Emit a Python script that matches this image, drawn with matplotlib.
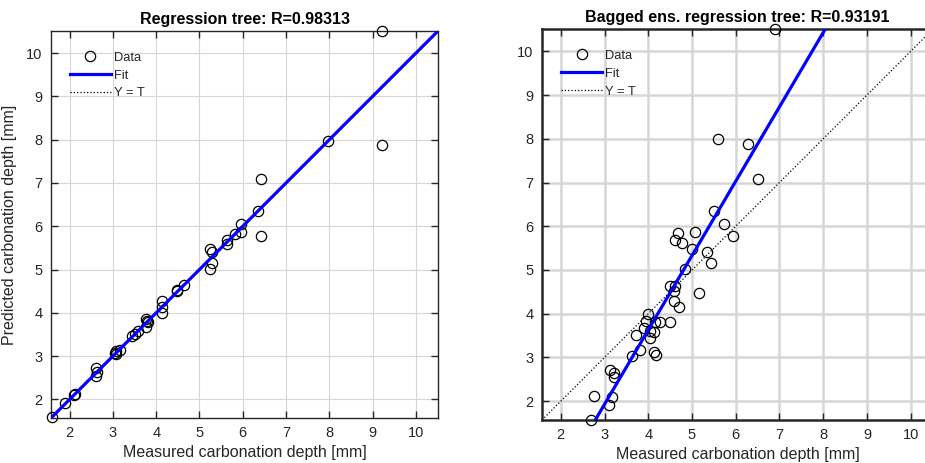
import numpy as np
import matplotlib
matplotlib.use("Agg")
import matplotlib.pyplot as plt
from matplotlib.lines import Line2D

plt.rcParams['font.family'] = ['Liberation Sans', 'DejaVu Sans']

# ---- data: regression tree ----
rt_target = [1.6, 1.9, 2.10, 2.12, 2.62, 2.63, 2.62, 3.06, 3.08, 3.16, 3.04,
             3.45, 3.50, 3.58, 3.76, 3.79, 3.81, 3.77, 4.13, 4.13, 4.13,
             4.47, 4.49, 4.64, 5.24, 5.28, 5.29, 5.24, 5.64, 5.64, 5.82,
             5.95, 5.96, 6.35, 6.43, 6.43, 7.98, 9.21, 9.21]
rt_output = [1.6, 1.91, 2.10, 2.12, 2.72, 2.64, 2.54, 3.04, 3.12, 3.15, 3.08,
             3.46, 3.50, 3.58, 3.86, 3.81, 3.78, 3.68, 4.28, 4.14, 4.00,
             4.50, 4.52, 4.65, 5.48, 5.40, 5.15, 5.02, 5.69, 5.60, 5.82,
             6.06, 5.87, 6.35, 7.08, 5.77, 7.98, 10.51, 7.88]
rt_fit = (1.0, 0.0)          # slope, intercept
rt_R = "0.98313"

# ---- data: bagged ensemble ----
bg_target = [2.68, 2.76, 3.10, 3.18, 3.12, 3.22, 3.22, 3.63, 3.82, 3.72,
             3.91, 3.95, 4.00, 4.03, 4.04, 4.12, 4.16, 4.26, 4.12, 4.17,
             4.49, 4.49, 4.61, 4.58, 4.58, 4.70, 4.83, 5.15, 4.67, 4.61,
             4.77, 5.06, 4.99, 5.34, 5.43, 5.50, 5.59, 5.73, 5.94, 6.28,
             6.51, 6.90]
bg_output = [1.58, 2.11, 1.91, 2.09, 2.72, 2.65, 2.55, 3.03, 3.16, 3.52,
             3.68, 3.84, 4.00, 3.44, 3.60, 3.58, 3.82, 3.80, 3.12, 3.06,
             3.80, 4.64, 4.64, 4.51, 4.28, 4.15, 5.02, 4.48, 5.84, 5.69,
             5.61, 5.87, 5.47, 5.40, 5.15, 6.35, 7.99, 6.05, 5.78, 7.89,
             7.08, 10.52]
bg_fit = (1.70, -3.17)
bg_R = "0.93191"

lims = (1.57, 10.51)
ticks = [2, 3, 4, 5, 6, 7, 8, 9, 10]

W, H = 925, 463
fig = plt.figure(figsize=(W / 100, H / 100), dpi=100)

txt = '#262626'


def panel(rect, t, o, fit, title, grid_lw, spine_lw, ylabel):
    ax = fig.add_axes(rect)
    ax.set_xlim(lims)
    ax.set_ylim(lims)
    xx = np.array(lims)
    ax.plot(xx, xx, ':', color='k', lw=0.9, zorder=2)
    ax.plot(t, o, 'o', mfc='none', mec='k', ms=7.4, mew=0.9, zorder=3,
            clip_on=False)
    ax.plot(xx, fit[0] * xx + fit[1], '-', color='#0000ff', lw=2.3, zorder=4,
            solid_capstyle='butt')
    ax.set_xticks(ticks)
    ax.set_yticks(ticks)
    ax.grid(True, color='#d6d6d6', lw=grid_lw, zorder=0)
    ax.set_axisbelow(True)
    ax.tick_params(direction='in', length=5, width=1.0, top=True, right=True,
                   labelsize=10.5, colors=txt, pad=6)
    for s in ax.spines.values():
        s.set_linewidth(spine_lw)
        s.set_color('#262626')
    ax.set_title(title, fontsize=11.5, fontweight='bold', color='k', pad=5)
    ax.set_xlabel('Measured carbonation depth [mm]', fontsize=11.5, color=txt,
                  labelpad=3)
    if ylabel:
        ax.set_ylabel('Predicted carbonation depth [mm]', fontsize=11.5,
                      color=txt, labelpad=7)
    handles = [Line2D([], [], marker='o', ls='none', mfc='none', mec='k',
                      ms=7.4, mew=0.9),
               Line2D([], [], color='#0000ff', lw=2.3),
               Line2D([], [], color='k', ls=':', lw=0.9)]
    leg = ax.legend(handles, ['Data', 'Fit', 'Y = T'], loc='upper left',
                    bbox_to_anchor=(0.035, 0.96), frameon=False,
                    fontsize=9.3, handlelength=3.2, handletextpad=0.25,
                    labelspacing=0.45, borderaxespad=0)
    for tx in leg.get_texts():
        tx.set_color(txt)
    return ax


panel([51 / W, (H - 418) / H, 387 / W, 387 / H], rt_target, rt_output, rt_fit,
      'Regression tree: R=' + rt_R, 0.8, 1.0, True)
panel([542 / W, (H - 420) / H, 391 / W, 391 / H], bg_target, bg_output, bg_fit,
      'Bagged ens. regression tree: R=' + bg_R, 1.8, 1.8, False)

fig.savefig('out.png', dpi=100)
